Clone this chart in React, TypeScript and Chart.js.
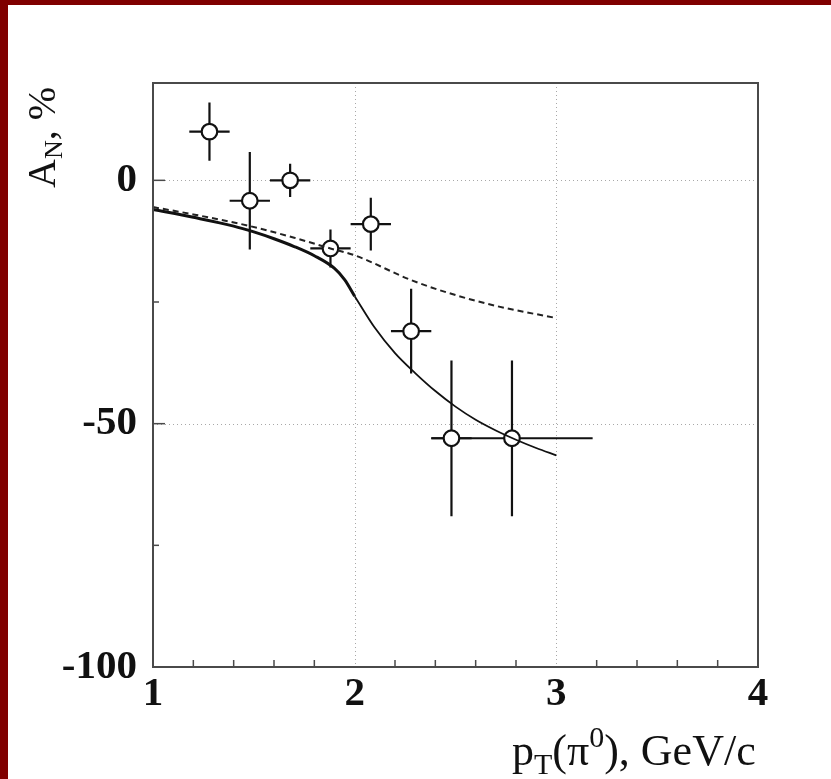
import React, { useEffect, useRef } from "react";
import { Chart, registerables } from "chart.js";
Chart.register(...registerables);

// Measured points (pT, A_N %)
const pointX = [1.28, 1.48, 1.68, 1.88, 2.08, 2.28, 2.48, 2.78];
const pointY = [10, -4.2, 0, -14, -9, -31, -53, -53];
const errY = [6, 10, 3.4, 3.9, 5.4, 8.7, 16, 16];
const errX = [0.1, 0.1, 0.1, 0.1, 0.1, 0.1, 0.1, 0.4];

// Solid theory curve (thick part, then thin part)
const solidThickX = [1.0, 1.2, 1.4, 1.5, 1.6, 1.7, 1.8, 1.9, 1.95, 2.0];
const solidThickY = [-6, -7.6, -9.4, -10.6, -12, -13.6, -15.5, -18.1, -20.4, -23.8];
const solidThinX = [2.0, 2.1, 2.2, 2.3, 2.4, 2.5, 2.6, 2.7, 2.8, 2.9, 3.0];
const solidThinY = [-23.8, -30.3, -35.5, -39.6, -43.3, -46.5, -49.2, -51.4, -53.3, -55, -56.5];

// Dashed theory curve
const dashedX = [1.0, 1.2, 1.48, 1.7, 1.88, 2.0, 2.28, 2.47, 2.7, 3.0];
const dashedY = [-5.5, -7, -9.4, -11.8, -14, -15.4, -20.5, -23.2, -25.8, -28.3];

// Axis ticks
const xTicks = [1, 2, 3, 4];
const yTicks = [-100, -50, 0];
const xGrid = [2, 3];
const yGrid = [0, -50];
const xMinorTicks = [1.2, 1.4, 1.6, 1.8, 2.2, 2.4, 2.6, 2.8, 3.2, 3.4, 3.6, 3.8];
const yMajorTicks = [0, -50];
const yMinorTicks = [-25, -75];

const SERIF = "'Liberation Serif', 'Times New Roman', serif";
const INK = "#111";

const zip = (xs: number[], ys: number[]) => xs.map((x, i) => ({ x, y: ys[i] }));

const decorPlugin = {
  id: "decor",
  beforeDatasetsDraw(chart: any) {
    const { ctx, chartArea: a, scales } = chart;
    const xs = scales.x, ys = scales.y;
    ctx.save();
    // dotted grid
    ctx.strokeStyle = "#a8a8a8";
    ctx.lineWidth = 1;
    ctx.setLineDash([1, 3]);
    xGrid.forEach((v) => {
      const px = Math.round(xs.getPixelForValue(v)) + 0.5;
      ctx.beginPath(); ctx.moveTo(px, a.top); ctx.lineTo(px, a.bottom); ctx.stroke();
    });
    yGrid.forEach((v) => {
      const py = Math.round(ys.getPixelForValue(v)) + 0.5;
      ctx.beginPath(); ctx.moveTo(a.left, py); ctx.lineTo(a.right, py); ctx.stroke();
    });
    ctx.setLineDash([]);
    // error bars
    ctx.strokeStyle = INK;
    ctx.lineWidth = 2.2;
    pointX.forEach((x, i) => {
      const y = pointY[i];
      const px = xs.getPixelForValue(x), py = ys.getPixelForValue(y);
      ctx.beginPath();
      ctx.moveTo(px, ys.getPixelForValue(y + errY[i]));
      ctx.lineTo(px, ys.getPixelForValue(y - errY[i]));
      ctx.moveTo(xs.getPixelForValue(x - errX[i]), py);
      ctx.lineTo(xs.getPixelForValue(x + errX[i]), py);
      ctx.stroke();
    });
    ctx.restore();
  },
  afterDatasetsDraw(chart: any) {
    const { ctx, chartArea: a, scales } = chart;
    const xs = scales.x, ys = scales.y;
    ctx.save();
    ctx.strokeStyle = "#4a4a4a";
    ctx.lineWidth = 1.5;
    xMinorTicks.forEach((v) => {
      const px = xs.getPixelForValue(v);
      ctx.beginPath(); ctx.moveTo(px, a.bottom); ctx.lineTo(px, a.bottom - 7); ctx.stroke();
    });
    yMajorTicks.forEach((v) => {
      const py = ys.getPixelForValue(v);
      ctx.beginPath(); ctx.moveTo(a.left, py); ctx.lineTo(a.left + 12, py); ctx.stroke();
    });
    yMinorTicks.forEach((v) => {
      const py = ys.getPixelForValue(v);
      ctx.beginPath(); ctx.moveTo(a.left, py); ctx.lineTo(a.left + 6, py); ctx.stroke();
    });
    // frame
    ctx.lineWidth = 2;
    ctx.strokeStyle = "#4a4a4a";
    ctx.strokeRect(a.left, a.top, a.right - a.left, a.bottom - a.top);
    ctx.restore();
  },
  afterDraw(chart: any) {
    const { ctx } = chart;
    ctx.save();
    ctx.fillStyle = INK;
    ctx.textBaseline = "alphabetic";
    ctx.textAlign = "left";
    // x title: p_T(π^0), GeV/c
    let x = 512;
    const base = 765;
    const big = `44px ${SERIF}`;
    const small = `30px ${SERIF}`;
    const put = (t: string, font: string, dy: number) => {
      ctx.font = font;
      ctx.fillText(t, x, base + dy);
      x += ctx.measureText(t).width;
    };
    put("p", big, 0);
    put("T", small, 9);
    put("(\u03C0", big, 0);
    put("0", small, -18);
    put("), GeV/c", big, 0);

    // y title: A_N, %
    ctx.translate(55, 188);
    ctx.rotate(-Math.PI / 2);
    let t = 0;
    const putR = (s: string, font: string, dy: number) => {
      ctx.font = font;
      ctx.fillText(s, t, dy);
      t += ctx.measureText(s).width;
    };
    putR("A", `40px ${SERIF}`, 0);
    putR("N", `26px ${SERIF}`, 7);
    putR(", %", `40px ${SERIF}`, 0);
    ctx.restore();
  },
};

export default function App() {
  const ref = useRef<HTMLCanvasElement>(null);
  useEffect(() => {
    if (!ref.current) return;
    const tickFont = { family: SERIF, size: 41, weight: "bold" as const };
    const chart = new Chart(ref.current, {
      type: "scatter",
      data: {
        datasets: [
          {
            data: zip(pointX, pointY),
            pointRadius: 7.8,
            pointHoverRadius: 7.8,
            pointBackgroundColor: "#ffffff",
            pointBorderColor: INK,
            pointBorderWidth: 2.2,
            showLine: false,
            order: 3,
          },
          {
            data: zip(solidThickX, solidThickY),
            showLine: true,
            borderColor: INK,
            borderWidth: 3,
            pointRadius: 0,
            cubicInterpolationMode: "monotone",
            order: 1,
          },
          {
            data: zip(solidThinX, solidThinY),
            showLine: true,
            borderColor: INK,
            borderWidth: 1.8,
            pointRadius: 0,
            cubicInterpolationMode: "monotone",
            order: 1,
          },
          {
            data: zip(dashedX, dashedY),
            showLine: true,
            borderColor: "#222",
            borderWidth: 2,
            borderDash: [6, 4],
            pointRadius: 0,
            cubicInterpolationMode: "monotone",
            order: 1,
          },
        ],
      },
      options: {
        responsive: false,
        animation: false,
        events: [],
        layout: { padding: { top: 83, right: 73, left: 0, bottom: 0 } },
        plugins: { legend: { display: false }, tooltip: { enabled: false } },
        scales: {
          x: {
            type: "linear",
            min: 1,
            max: 4,
            afterBuildTicks: (s: any) => { s.ticks = xTicks.map((v) => ({ value: v })); },
            afterFit: (s: any) => { s.height = 112; },
            grid: { display: false, drawTicks: false },
            border: { display: false },
            ticks: { font: tickFont, color: INK, padding: 3, maxRotation: 0, autoSkip: false },
          },
          y: {
            type: "linear",
            min: -100,
            max: 20,
            afterBuildTicks: (s: any) => { s.ticks = yTicks.map((v) => ({ value: v })); },
            afterFit: (s: any) => { s.width = 153; },
            grid: { display: false, drawTicks: false },
            border: { display: false },
            ticks: { font: tickFont, color: INK, padding: 16, autoSkip: false },
          },
        },
      },
      plugins: [decorPlugin],
    } as any);
    return () => chart.destroy();
  }, []);
  return (
    <div style={{ position: "fixed", left: 0, top: 0, width: 831, height: 779, background: "#fff", overflow: "hidden" }}>
      <canvas ref={ref} width={831} height={779} style={{ position: "absolute", left: 0, top: 0 }} />
      <div style={{ position: "absolute", left: 0, top: 0, width: 831, height: 5, background: "#800000" }} />
      <div style={{ position: "absolute", left: 0, top: 0, width: 8, height: 779, background: "#800000" }} />
    </div>
  );
}
